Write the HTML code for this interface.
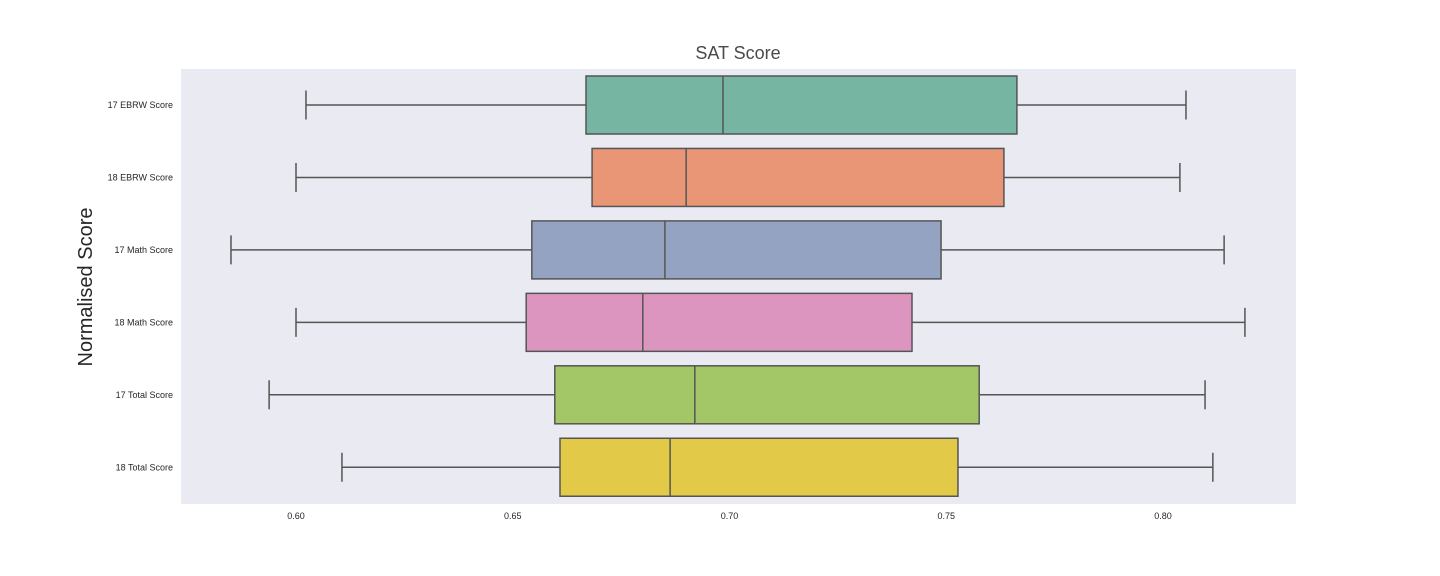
<!DOCTYPE html>
<html><head><meta charset="utf-8"><style>
body{margin:0;background:#fff;}
svg{display:block;font-family:"Liberation Sans",Arial,sans-serif;}
</style></head><body>
<svg id="chart" width="1440" height="576">
<rect x="181" y="69" width="1115" height="435" fill="#eaeaf2"/>
<text x="738" y="59" text-anchor="middle" font-size="18" fill="#4a4a4a">SAT Score</text>
<text transform="translate(92,287) rotate(-90)" text-anchor="middle" font-size="20" fill="#262626">Normalised Score</text>
<g id="marks"></g>
</svg>
<script>
const categories=["17 EBRW Score","18 EBRW Score","17 Math Score","18 Math Score","17 Total Score","18 Total Score"];
const whiskerLow=[0.6023,0.600,0.585,0.600,0.5938,0.6106];
const q1=[0.6669,0.6683,0.6544,0.6531,0.6597,0.6609];
const median=[0.6985,0.690,0.6851,0.680,0.692,0.6863];
const q3=[0.7663,0.7633,0.7488,0.7421,0.7576,0.7527];
const whiskerHigh=[0.8053,0.8039,0.8141,0.8189,0.8097,0.8115];
const xTicks=[0.60,0.65,0.70,0.75,0.80];
const colors=["#75b5a1","#e89675","#95a3c2","#db95be","#a3c766","#e2c947"];
const ns="http://www.w3.org/2000/svg";
const g=document.getElementById('marks');
const x=v=>296+(v-0.6)*4335;
const y=i=>105+i*72.45;
const bh=58;
function mk(t,a){const e=document.createElementNS(ns,t);for(const k in a)e.setAttribute(k,a[k]);g.appendChild(e);return e;}
xTicks.forEach(t=>{
 const e=mk('text',{x:x(t),y:519,'text-anchor':'middle','font-size':9,fill:'#262626'});
 e.textContent=t.toFixed(2);
 
 
});
categories.forEach((c,i)=>{
 const cy=y(i),st={stroke:'#555','stroke-width':1.5,fill:'none'};
 const l=mk('text',{x:173,y:cy+3,'text-anchor':'end','font-size':9,fill:'#262626'});
 l.textContent=c;
 
 
 const w1=mk('line',Object.assign({x1:x(whiskerLow[i]),x2:x(q1[i]),y1:cy,y2:cy},st));
 
 
 const w2=mk('line',Object.assign({x1:x(q3[i]),x2:x(whiskerHigh[i]),y1:cy,y2:cy},st));
 
 
 [whiskerLow[i],whiskerHigh[i]].forEach(v=>{
  const cp=mk('line',Object.assign({x1:x(v),x2:x(v),y1:cy-14.5,y2:cy+14.5},st));
  
  
 });
 const b=mk('rect',{x:x(q1[i]),y:cy-bh/2,width:x(q3[i])-x(q1[i]),height:bh,fill:colors[i],stroke:'#555','stroke-width':1.5});
 
 
 const m=mk('line',Object.assign({x1:x(median[i]),x2:x(median[i]),y1:cy-bh/2,y2:cy+bh/2},st));
 
 
});
</script>
</body></html>
